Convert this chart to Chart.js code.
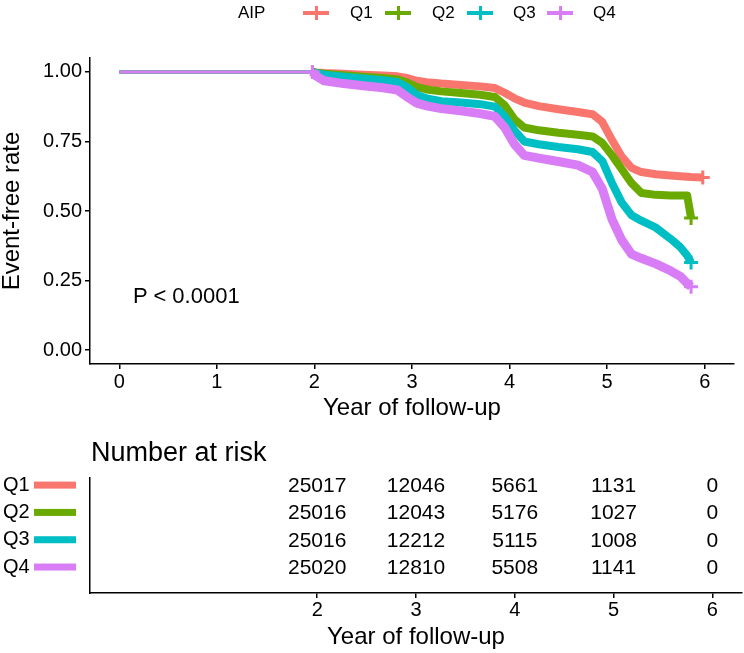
<!DOCTYPE html>
<html>
<head>
<meta charset="utf-8">
<title>Event-free rate by AIP quartile</title>
<script src="https://cdn.jsdelivr.net/npm/chart.js@4.4.0/dist/chart.umd.min.js"></script>
<style>
  body { margin:0; background:#fff; font-family:"Liberation Sans", Arial, sans-serif; }
  #wrap { position:relative; width:744px; height:653px; overflow:hidden; background:#fff; }
  canvas { position:absolute; left:0; }
  #survCanvas { top:0; }
  #riskCanvas { top:425px; }
  .txt { position:absolute; color:#000; white-space:nowrap; line-height:1; }
  .key { position:absolute; width:26px; height:14px; top:6px; }
  .key .h { position:absolute; left:0; right:0; top:5px; height:4px; }
  .key .v { position:absolute; left:12px; width:3px; top:0; height:14px; }
</style>
</head>
<body>
<div id="wrap">
  <canvas id="survCanvas" width="744" height="430"></canvas>
  <canvas id="riskCanvas" width="744" height="228"></canvas>

  <div class="txt" style="left:238px;top:4px;font-size:17px;">AIP</div>
  <div id="legendKeys"></div>

  <div class="txt" style="left:133px;top:285px;font-size:22px;">P &lt; 0.0001</div>
  <div class="txt" style="left:91px;top:439px;font-size:27px;">Number at risk</div>
</div>

<script>
/* ===========================
   DATA
=========================== */
const groups = ["Q1", "Q2", "Q3", "Q4"];

// follow-up times (years) shared by the four curves
const followUp = [0, 1.98, 2.02, 2.1, 2.3, 2.5, 2.7, 2.85, 2.95, 3.05, 3.15, 3.3, 3.5, 3.7,
                  3.85, 3.95, 4.05, 4.15, 4.3, 4.5, 4.7, 4.85, 4.95, 5.05, 5.15, 5.25, 5.35,
                  5.5, 5.65, 5.75, 5.82, 5.86, 5.98];

const rateQ1 = [1, 1, .998, .996, .993, .99, .987, .984, .978, .968, .963, .958, .953, .948,
                .942, .925, .905, .89, .877, .866, .856, .848, .82, .755, .695, .655, .64,
                .632, .628, .625, .623, .622, .62];
const rateQ2 = [1, 1, .997, .993, .988, .983, .978, .973, .962, .945, .937, .93, .924, .918,
                .91, .88, .83, .8, .79, .781, .774, .768, .745, .7, .65, .6, .565,
                .558, .556, .556, .556, .475, null];
const rateQ3 = [1, 1, .995, .99, .983, .976, .97, .964, .945, .917, .905, .895, .89, .884,
                .875, .84, .79, .75, .74, .73, .722, .712, .68, .6, .53, .485, .465,
                .44, .4, .37, .34, .315, null];
const rateQ4 = [1, 1, .985, .968, .958, .95, .943, .935, .91, .888, .878, .868, .86, .85,
                .84, .8, .74, .7, .69, .678, .665, .64, .58, .47, .395, .345, .33,
                .31, .285, .265, .24, .228, null];

const survXTicks = [0, 1, 2, 3, 4, 5, 6];
const survYTicks = [0, 0.25, 0.5, 0.75, 1];

// number at risk
const riskTimes = [2, 3, 4, 5, 6];
const riskQ1 = [25017, 12046, 5661, 1131, 0];
const riskQ2 = [25016, 12043, 5176, 1027, 0];
const riskQ3 = [25016, 12212, 5115, 1008, 0];
const riskQ4 = [25020, 12810, 5508, 1141, 0];

/* ===========================
   STYLE
=========================== */
const FONT = "'Liberation Sans', Arial, sans-serif";
const colors = ["#F8766D", "#6AAA00", "#00BFC4", "#D97DF6"];
const bandWidth = [8, 8, 8, 9];
const rates = [rateQ1, rateQ2, rateQ3, rateQ4];
const risks = [riskQ1, riskQ2, riskQ3, riskQ4];

/* ===========================
   LEGEND (top)
=========================== */
const legendKeyX = [303, 385, 467, 547];
const legendTextX = [350, 432, 513, 593];
const legendBox = document.getElementById("legendKeys");
groups.forEach((g, i) => {
    const k = document.createElement("div");
    k.className = "key";
    k.style.left = legendKeyX[i] + "px";
    k.innerHTML = '<div class="h" style="background:' + colors[i] + '"></div>' +
                  '<div class="v" style="background:' + colors[i] + '"></div>';
    legendBox.appendChild(k);
    const t = document.createElement("div");
    t.className = "txt";
    t.style.left = legendTextX[i] + "px";
    t.style.top = "4px";
    t.style.fontSize = "17px";
    t.textContent = g;
    legendBox.appendChild(t);
});

/* ===========================
   SURVIVAL CURVES
=========================== */
function curvePoints(vals){
    const pts = [];
    followUp.forEach((t, i) => { if(vals[i] !== null) pts.push({x: t, y: vals[i]}); });
    return pts;
}

const axisGrid = {display:true, drawOnChartArea:false, drawTicks:true, tickLength:5, color:"#000", lineWidth:1.5};
const axisBorder = {display:true, color:"#000", width:1.5};

new Chart(document.getElementById("survCanvas"), {
    type: "line",
    data: {
        datasets: groups.map((g, i) => {
            const pts = curvePoints(rates[i]);
            return {
                label: g,
                data: pts,
                borderColor: colors[i],
                backgroundColor: colors[i],
                borderWidth: bandWidth[i],
                borderJoinStyle: "round",
                borderCapStyle: "butt",
                fill: false,
                tension: 0,
                order: 4 - i,
                segment: {
                    borderWidth: ctx => ctx.p0.parsed.x < 1.9 ? 3 : bandWidth[i]
                },
                pointStyle: "cross",
                pointBorderColor: colors[i],
                pointBorderWidth: 3,
                pointRadius: ctx => (ctx.dataIndex === pts.length - 1 || ctx.dataIndex === 1) ? 7 : 0,
                pointHoverRadius: 0
            };
        })
    },
    options: {
        responsive: false,
        maintainAspectRatio: false,
        animation: false,
        layout: { padding: {top:58, right:2, left:0, bottom:0} },
        plugins: { legend:{display:false}, tooltip:{enabled:false} },
        scales: {
            x: {
                type: "linear",
                min: -0.3,
                max: 6.3,
                afterBuildTicks: s => { s.ticks = survXTicks.map(v => ({value:v})); },
                afterFit: s => { s.height = 66; },
                ticks: { color:"#000", font:{size:20, family:FONT}, padding:1, maxRotation:0, autoSkip:false },
                grid: axisGrid,
                border: axisBorder,
                title: { display:true, text:"Year of follow-up", color:"#000",
                         font:{size:24, family:FONT}, padding:{top:0, bottom:7.6} }
            },
            y: {
                type: "linear",
                min: -0.05,
                max: 1.05,
                afterBuildTicks: s => { s.ticks = survYTicks.map(v => ({value:v})); },
                afterFit: s => { s.width = 90; },
                ticks: { color:"#000", font:{size:20, family:FONT}, padding:3,
                         callback: v => Number(v).toFixed(2) },
                grid: axisGrid,
                border: axisBorder,
                title: { display:true, text:"Event-free rate", color:"#000",
                         font:{size:24, family:FONT, lineHeight:1}, padding:{top:0, bottom:0} }
            }
        }
    }
});

/* ===========================
   RISK TABLE
=========================== */
const riskLabels = {
    id: "riskLabels",
    afterDatasetsDraw(chart){
        const ctx = chart.ctx;
        const xs = chart.scales.x, ys = chart.scales.y;
        ctx.save();
        ctx.fillStyle = "#000";
        ctx.font = "21px " + FONT;
        ctx.textAlign = "center";
        ctx.textBaseline = "middle";
        chart.data.datasets.forEach(ds => {
            ds.data.forEach(p => {
                ctx.fillText(String(p.n), xs.getPixelForValue(p.x), ys.getPixelForValue(p.y) + 1);
            });
        });
        // coloured keys next to the group names
        groups.forEach((g, i) => {
            ctx.fillStyle = colors[i];
            ctx.fillRect(34, ys.getPixelForValue(i + 1) - 3.5, 42, 7);
        });
        ctx.restore();
    }
};

new Chart(document.getElementById("riskCanvas"), {
    type: "scatter",
    data: {
        datasets: groups.map((g, i) => ({
            label: g,
            data: riskTimes.map((t, j) => ({x: t, y: i + 1, n: risks[i][j]})),
            pointRadius: 0,
            pointHoverRadius: 0
        }))
    },
    options: {
        responsive: false,
        maintainAspectRatio: false,
        animation: false,
        layout: { padding: {top:53, right:2, left:3, bottom:0} },
        plugins: { legend:{display:false}, tooltip:{enabled:false} },
        scales: {
            x: {
                type: "linear",
                min: -0.3,
                max: 6.3,
                afterBuildTicks: s => { s.ticks = riskTimes.map(v => ({value:v})); },
                afterFit: s => { s.height = 60; },
                ticks: { color:"#000", font:{size:20, family:FONT}, padding:0, maxRotation:0, autoSkip:false },
                grid: axisGrid,
                border: axisBorder,
                title: { display:true, text:"Year of follow-up", color:"#000",
                         font:{size:24, family:FONT}, padding:{top:0, bottom:1.6} }
            },
            y: {
                type: "linear",
                reverse: true,
                min: 0.74,
                max: 4.95,
                afterBuildTicks: s => { s.ticks = groups.map((g, i) => ({value:i + 1})); },
                afterFit: s => { s.width = 87; },
                ticks: { color:"#000", font:{size:20, family:FONT}, padding:0, crossAlign:"far",
                         callback: v => groups[v - 1] },
                grid: { display:false, drawTicks:false },
                border: axisBorder
            }
        }
    },
    plugins: [riskLabels]
});
</script>
</body>
</html>
